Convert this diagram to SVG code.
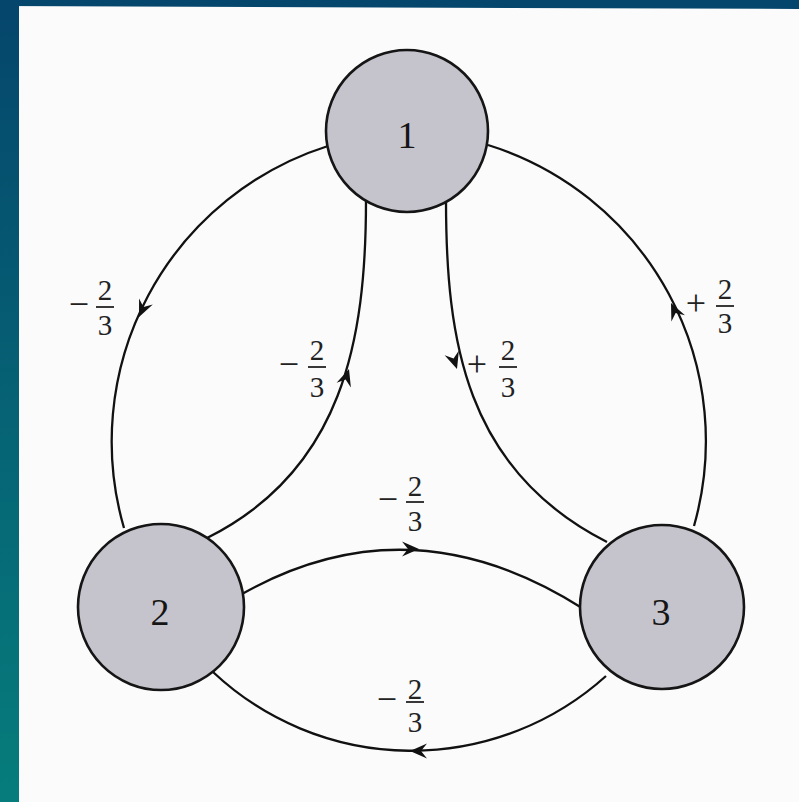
<svg xmlns="http://www.w3.org/2000/svg" xmlns:xlink="http://www.w3.org/1999/xlink" width="799" height="802" viewBox="0 0 799 802">
<style>
.conn{fill:none;stroke:#111;stroke-width:2.3}
.node{fill:#c5c4cc;stroke:#151515;stroke-width:2.6}
.nlab{font-family:"Liberation Serif","Times New Roman",serif;font-size:38px;fill:#151515;text-anchor:middle}
.flab{font-family:"Liberation Serif","Times New Roman",serif;font-size:29px;fill:#222;text-anchor:middle}
.sign{font-family:"Liberation Serif","Times New Roman",serif;font-size:36px;fill:#222;text-anchor:middle}
.bar{stroke:#222;stroke-width:1.8}
.ah{fill:#111}
</style>
<defs>
<linearGradient id="side" x1="0" y1="0" x2="0" y2="1">
<stop offset="0" stop-color="#05466c"/>
<stop offset="1" stop-color="#067d7c"/>
</linearGradient>
<path id="arrow" class="ah" d="M0,0 L-17,-7.5 L-11,0 L-17,7.5 Z"/>
</defs>
<rect x="0" y="0" width="799" height="802" fill="#fbfbfc"/>
<polygon points="0,0 799,0 799,9 0,6" fill="#05466c"/>
<rect x="0" y="0" width="19" height="802" fill="url(#side)"/>

<g id="connectors">
<path class="conn" d="M328,146 A310,310 0 0 0 124,528"/>
<path class="conn" d="M488,145 A310,310 0 0 1 694,526"/>
<path class="conn" d="M366,200 C366,340 343,470 207,538"/>
<path class="conn" d="M446,200 C446,340 465,470 607,542"/>
<path class="conn" d="M242,594 Q410,499 582,608"/>
<path class="conn" d="M213,672 A290,290 0 0 0 606,676"/>
<use xlink:href="#arrow" transform="translate(139,317) rotate(114)"/>
<use xlink:href="#arrow" transform="translate(349,369) rotate(-72)"/>
<use xlink:href="#arrow" transform="translate(457,369) rotate(72)"/>
<use xlink:href="#arrow" transform="translate(671,303) rotate(-115)"/>
<use xlink:href="#arrow" transform="translate(419,549) rotate(0)"/>
<use xlink:href="#arrow" transform="translate(410,751) rotate(180)"/>
</g>

<g id="node1">
<circle class="node" cx="407" cy="131" r="81"/>
<text class="nlab" x="407" y="148">1</text>
</g>
<g id="node2">
<circle class="node" cx="161" cy="607" r="83"/>
<text class="nlab" x="160" y="625">2</text>
</g>
<g id="node3">
<circle class="node" cx="662" cy="607" r="82"/>
<text class="nlab" x="661" y="625">3</text>
</g>

<g id="labels">
<g id="lab-outer-left">
<text class="sign" x="79" y="316">−</text>
<text class="flab" x="105" y="300">2</text>
<line class="bar" x1="96" y1="307" x2="114" y2="307"/>
<text class="flab" x="105" y="335">3</text>
</g>
<g id="lab-inner-left">
<text class="sign" x="289" y="376">−</text>
<text class="flab" x="317" y="360">2</text>
<line class="bar" x1="308" y1="367" x2="326" y2="367"/>
<text class="flab" x="317" y="397">3</text>
</g>
<g id="lab-inner-right">
<text class="sign" x="477" y="376">+</text>
<text class="flab" x="508" y="360">2</text>
<line class="bar" x1="499" y1="367" x2="517" y2="367"/>
<text class="flab" x="508" y="397">3</text>
</g>
<g id="lab-outer-right">
<text class="sign" x="696" y="315">+</text>
<text class="flab" x="725" y="299">2</text>
<line class="bar" x1="716" y1="306" x2="734" y2="306"/>
<text class="flab" x="725" y="333">3</text>
</g>
<g id="lab-middle">
<text class="sign" x="388" y="511">−</text>
<text class="flab" x="415" y="496">2</text>
<line class="bar" x1="406" y1="502" x2="424" y2="502"/>
<text class="flab" x="415" y="531">3</text>
</g>
<g id="lab-bottom">
<text class="sign" x="387" y="711">−</text>
<text class="flab" x="415" y="699">2</text>
<line class="bar" x1="406" y1="702" x2="424" y2="702"/>
<text class="flab" x="415" y="732">3</text>
</g>
</g>
</svg>
